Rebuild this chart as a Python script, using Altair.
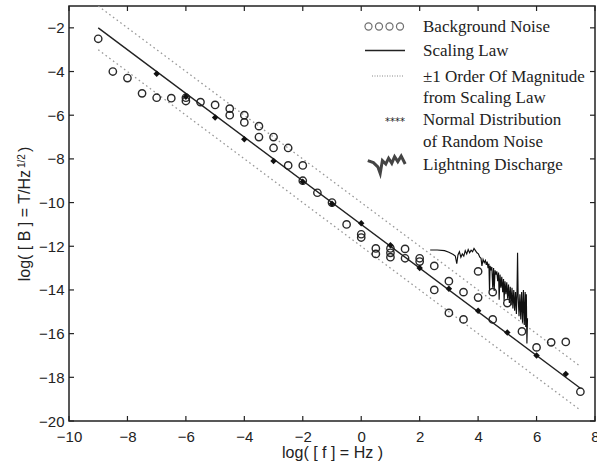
import altair as alt
import pandas as pd

# ---------------- data ----------------
x_ticks = [-10, -8, -6, -4, -2, 0, 2, 4, 6, 8]
y_ticks = [-20, -18, -16, -14, -12, -10, -8, -6, -4, -2]

# Background noise (open circles)
bg_x = [-9, -8.5, -8, -7.5, -7, -6.5, -6, -6, -5.5, -5, -4.5, -4.5, -4, -4,
        -3.5, -3.5, -3, -3, -2.5, -2.5, -2, -2, -1.5, -1, -0.5, 0, 0,
        0.5, 0.5, 1, 1, 1, 1.5, 1.5, 2, 2, 2.5, 2.5, 3, 3, 3.5, 3.5,
        4, 4, 4.5, 4.5, 5, 5.5, 6, 6.5, 7, 7.5]
bg_y = [-2.5, -4.0, -4.3, -5.0, -5.2, -5.22, -5.2, -5.35, -5.4, -5.53, -5.7, -6.0, -6.0, -6.33,
        -6.5, -7.0, -7.0, -7.5, -7.5, -8.3, -8.3, -9.0, -9.55, -10.0, -11.0, -11.45, -11.6,
        -12.1, -12.35, -12.1, -12.3, -12.5, -12.12, -12.55, -12.55, -12.7, -12.9, -14.0, -13.6, -15.05, -14.1, -15.35,
        -13.15, -14.35, -14.1, -15.35, -14.6, -15.9, -16.63, -16.4, -16.38, -18.66]

# Normal distribution of random noise (filled stars)
noise_x = [-7, -6, -5, -4, -3, -2, -1, 0, 1, 2, 3, 4, 5, 6, 7]
noise_y = [-4.1, -5.15, -6.1, -7.1, -8.1, -9.05, -10.05, -10.95, -11.95, -13.0, -13.95, -14.95, -15.95, -17.0, -17.85]

# Scaling law and +-1 order of magnitude
law_x = [-9, 7.5]
law_y = [-2, -18.5]
upper_y = [-1, -17.5]
lower_y = [-3, -19.5]

# Lightning discharge trace
light_x = [2.36, 2.60, 2.85, 3.00, 3.15, 3.22, 3.27, 3.31, 3.36, 3.41, 3.46, 3.51, 3.56, 3.61,
           3.66, 3.71, 3.76, 3.81, 3.86, 3.91, 3.96, 4.01, 4.06, 4.10, 4.13, 4.17, 4.21, 4.25,
           4.28, 4.31, 4.34, 4.37, 4.39, 4.41, 4.44, 4.47, 4.50, 4.53, 4.55, 4.58, 4.61, 4.64,
           4.67, 4.70, 4.72, 4.75, 4.78, 4.81, 4.84, 4.87, 4.89, 4.92, 4.95, 4.98, 5.01, 5.04,
           5.07, 5.10, 5.13, 5.16, 5.19, 5.22, 5.25, 5.28, 5.31, 5.33, 5.35, 5.37, 5.40, 5.43,
           5.46, 5.49, 5.52, 5.55, 5.58, 5.61, 5.63, 5.65, 5.67, 5.69]
light_y = [-12.17, -12.17, -12.2, -12.27, -12.38, -12.45, -12.8, -12.4, -12.25, -12.5, -12.35, -12.45, -12.2, -12.35,
           -12.15, -12.3, -12.18, -12.25, -12.1, -12.2, -12.3, -12.35, -12.5, -12.55, -12.9, -12.6, -12.75, -12.65,
           -12.85, -12.7, -13.0, -12.8, -14.05, -12.9, -13.1, -12.95, -13.9, -13.0, -14.05, -13.1, -13.3, -13.15,
           -13.6, -13.2, -14.45, -13.3, -13.9, -13.4, -14.1, -13.5, -14.5, -13.6, -14.2, -13.65, -14.4, -13.75,
           -14.6, -13.85, -14.7, -13.9, -14.85, -14.0, -14.95, -14.1, -15.1, -14.2, -12.3, -14.3, -15.2, -14.2,
           -15.35, -14.1, -15.5, -14.0, -15.6, -14.1, -15.7, -14.2, -16.45, -15.3]

legend_labels = ["Background Noise", "Scaling Law", "\u00b11 Order Of Magnitude", "from Scaling Law",
                 "Normal Distribution", "of Random Noise", "Lightning Discharge"]

x_title = "log( [ f ] = Hz )"
y_title_main = "log( [ B ] = T/Hz"
y_title_sup = "1/2"
y_title_end = ")"

# ---------------- layout / style ----------------
W, H = 526, 415
INK = "#222222"
SANS = "Liberation Sans"
SERIF = "Liberation Serif"

xs = alt.Scale(domain=[-10, 8], nice=False, zero=False)
ys = alt.Scale(domain=[-20, -1], nice=False, zero=False)

AX = alt.Axis(values=x_ticks, title=x_title, ticks=False, domain=False, grid=False,
              labelFont=SANS, labelFontSize=15, labelColor=INK, labelPadding=8,
              labelFlush=False, labelOverlap=False,
              titleFont=SANS, titleFontSize=16, titleFontWeight="normal", titleColor=INK,
              titleBaseline="alphabetic", titleY=36)
AY = alt.Axis(values=y_ticks, title="", ticks=False, domain=False, grid=False,
              labelFont=SANS, labelFontSize=15, labelColor=INK, labelPadding=5,
              labelFlush=False, labelOverlap=False)


def X(f):
    return alt.X(f, scale=xs, axis=AX)


def Y(f):
    return alt.Y(f, scale=ys, axis=AY)


one = alt.Data(values=[{"k": 1}])

bg_df = pd.DataFrame({"x": bg_x, "y": bg_y})
noise_df = pd.DataFrame({"x": noise_x, "y": noise_y})
law_df = pd.DataFrame({"x": law_x, "law": law_y, "up": upper_y, "lo": lower_y})
light_df = pd.DataFrame({"x": light_x, "y": light_y, "i": list(range(len(light_x)))})
xt_df = pd.DataFrame({"x": x_ticks})
yt_df = pd.DataFrame({"y": y_ticks})

bg = alt.Chart(bg_df).mark_point(shape="circle", size=54, color="#1e1e1e", strokeWidth=1.4, filled=False,
                                 opacity=0.95).encode(x=X("x:Q"), y=Y("y:Q"))

noise = alt.Chart(noise_df).mark_point(shape="diamond", size=42, color="#111111", filled=True, opacity=1).encode(
    x=X("x:Q"), y=Y("y:Q"))

law = alt.Chart(law_df).mark_line(color="#222222", strokeWidth=1.4, clip=True).encode(
    x=X("x:Q"), y=Y("law:Q"))
up = alt.Chart(law_df).mark_line(color="#999999", strokeWidth=1.3, strokeDash=[1.6, 3], clip=True).encode(
    x=X("x:Q"), y=Y("up:Q"))
lo = alt.Chart(law_df).mark_line(color="#999999", strokeWidth=1.3, strokeDash=[1.6, 3], clip=True).encode(
    x=X("x:Q"), y=Y("lo:Q"))

light = alt.Chart(light_df).mark_line(color="#111111", strokeWidth=1.15, clip=True).encode(
    x=X("x:Q"), y=Y("y:Q"), order="i:Q")

# inward ticks on all four sides
tk = dict(color=INK, strokeWidth=1.2)
t_bottom = alt.Chart(xt_df).mark_rule(**tk).encode(x=X("x:Q"), y=alt.value(H), y2=alt.value(H - 5))
t_top = alt.Chart(xt_df).mark_rule(**tk).encode(x=X("x:Q"), y=alt.value(0), y2=alt.value(5))
t_left = alt.Chart(yt_df).mark_rule(**tk).encode(y=Y("y:Q"), x=alt.value(0), x2=alt.value(5))
t_right = alt.Chart(yt_df).mark_rule(**tk).encode(y=Y("y:Q"), x=alt.value(W), x2=alt.value(W - 5))

layers = [up, lo, law, light, bg, noise, t_bottom, t_top, t_left, t_right]

# ---------------- legend (drawn inside the plot) ----------------
leg_text_x = 354
leg_baselines = [25.5, 49.5, 75.5, 96.5, 119, 141, 164]
for lab, by in zip(legend_labels, leg_baselines):
    layers.append(alt.Chart(one).mark_text(font=SERIF, fontSize=17, color=INK, align="left",
                                           baseline="alphabetic").encode(
        x=alt.value(leg_text_x), y=alt.value(by), text=alt.value(lab)))

# circles symbol
for cx in [299.5, 310, 320.5, 331]:
    layers.append(alt.Chart(one).mark_point(shape="circle", size=50, color="#333333", strokeWidth=1.2,
                                            filled=False).encode(x=alt.value(cx), y=alt.value(20.5)))
# solid line symbol
layers.append(alt.Chart(one).mark_rule(color=INK, strokeWidth=1.6).encode(
    x=alt.value(296), x2=alt.value(336), y=alt.value(44.5)))
# dotted symbol
layers.append(alt.Chart(one).mark_rule(color="#888888", strokeWidth=1.0, strokeDash=[1, 1.5]).encode(
    x=alt.value(303), x2=alt.value(334), y=alt.value(70)))
# asterisks
layers.append(alt.Chart(one).mark_text(font="DejaVu Sans", fontSize=10, color=INK, align="right",
                                       baseline="alphabetic").encode(
    x=alt.value(336), y=alt.value(118.5), text=alt.value("****")))
# lightning squiggle
squiggle = ("M-0.91,-0.22 L-0.63,-0.12 L-0.41,0.09 L-0.29,0.42 L-0.18,-0.22 L-0.01,-0.05 "
            "L0.13,-0.34 L0.29,-0.09 L0.43,-0.42 L0.59,-0.17 L0.76,-0.45 L0.96,-0.05")
layers.append(alt.Chart(one).mark_point(shape=squiggle, size=1600, color="#444444", strokeWidth=3.0,
                                        filled=False, opacity=1).encode(x=alt.value(317), y=alt.value(159)))

# ---------------- y-axis title with superscript ----------------
layers.append(alt.Chart(one).mark_text(font=SANS, fontSize=16, color=INK, angle=270, align="right",
                                       baseline="alphabetic").encode(
    x=alt.value(-39.5), y=alt.value(164), text=alt.value(y_title_main)))
layers.append(alt.Chart(one).mark_text(font=SANS, fontSize=10, color=INK, angle=270, align="left",
                                       baseline="alphabetic").encode(
    x=alt.value(-44.5), y=alt.value(162), text=alt.value(y_title_sup)))
layers.append(alt.Chart(one).mark_text(font=SANS, fontSize=16, color=INK, angle=270, align="left",
                                       baseline="alphabetic").encode(
    x=alt.value(-39.5), y=alt.value(146), text=alt.value(y_title_end)))

chart = alt.layer(*layers).properties(
    width=W, height=H,
    padding={"left": 69, "top": 6, "right": 2, "bottom": 44},
    autosize=alt.AutoSizeParams(type="none"),
    background="white",
).configure_view(stroke=INK, strokeWidth=1.5)

chart.save("out.html", embed_options={"renderer": "svg", "actions": False})
